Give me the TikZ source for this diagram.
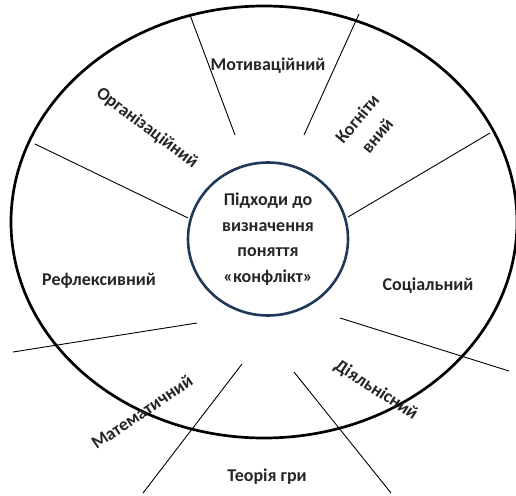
\documentclass[tikz,border=0pt]{standalone}
\usepackage{fontspec}
\setmainfont{Carlito}
\usetikzlibrary{shapes.geometric}
\definecolor{ringblue}{RGB}{31,56,86}
\definecolor{txt}{RGB}{38,38,38}
\tikzset{
  lab/.style={font=\bfseries\fontsize{18}{26}\selectfont, text=txt, inner sep=0pt, align=center},
  spoke/.style={line width=0.9pt, black},
}
\begin{document}
\begin{tikzpicture}[x=1pt,y=-1pt]
\useasboundingbox (0,0) rectangle (516,495);
% outer ellipse
\draw[line width=2.7pt] (264,222) ellipse [x radius=253pt, y radius=216pt];
% centre
\node[ellipse, draw=ringblue, line width=2.6pt, minimum width=160pt, minimum height=153pt, inner sep=0pt,
      font=\bfseries\fontsize{18}{25.7}\selectfont, text=txt, align=center] (c) at (268,239)
  {Підходи до\\визначення\\поняття\\«конфлікт»};
% spokes
\coordinate (m1a) at (190,15);  \coordinate (m1b) at (235,135);
\coordinate (m2a) at (359,14);  \coordinate (m2b) at (304,135);
\coordinate (l1a) at (35,144);  \coordinate (l1b) at (188,218);
\coordinate (r1a) at (490,133); \coordinate (r1b) at (348,217);
\coordinate (l2a) at (13,352);  \coordinate (l2b) at (197,323);
\coordinate (r2a) at (509,371); \coordinate (r2b) at (340,318);
\coordinate (b1a) at (242,364); \coordinate (b1b) at (143,493);
\coordinate (b2a) at (294,372); \coordinate (b2b) at (391,493);
\foreach \p in {m1,m2,l1,r1,l2,r2,b1,b2} \draw[spoke] (\p a) -- (\p b);
% labels
\node[lab] (mot) at (268,66) {Мотиваційний};
\node[lab, rotate=-37] (org) at (147,128) {Організаційний};
\node[lab, rotate=50] (kog) at (367,127) {Когніти\\вний};
\node[lab] (ref) at (99,281) {Рефлексивний};
\node[lab] (soc) at (428,286) {Соціальний};
\node[lab, rotate=34] (mat) at (142,412) {Математичний};
\node[lab, rotate=-33] (dia) at (376,390) {Діяльнісний};
\node[lab] (teo) at (267,477) {Теорія гри};
\end{tikzpicture}
\end{document}
